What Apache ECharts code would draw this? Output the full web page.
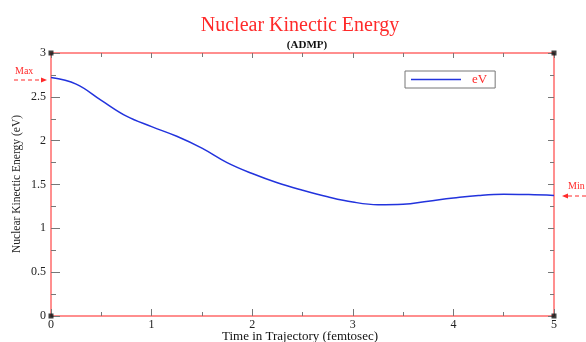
<!DOCTYPE html>
<html>
<head>
<meta charset="utf-8">
<script src="https://cdn.jsdelivr.net/npm/echarts@6/dist/echarts.min.js"></script>
<style>
  html, body { margin: 0; padding: 0; background: #fff; }
  #chart { width: 586px; height: 342px; }
</style>
</head>
<body>
<div id="chart"></div>
<script>
// Nuclear kinetic energy along the ADMP trajectory
const times = [0, 0.25, 0.5, 0.75, 1.0, 1.25, 1.5, 1.75, 2.0, 2.25, 2.5,
               2.75, 3.0, 3.25, 3.5, 3.75, 4.0, 4.25, 4.5, 4.75, 5.0];
const energyEV = [2.72, 2.645, 2.46, 2.28, 2.16, 2.05, 1.915, 1.75, 1.625, 1.52, 1.435,
                  1.36, 1.30, 1.27, 1.275, 1.31, 1.345, 1.375, 1.39, 1.385, 1.375];
const xTicks = [0, 1, 2, 3, 4, 5];
const yTicks = [0, 0.5, 1, 1.5, 2, 2.5, 3];
const frameCorners = [[0, 0], [5, 0], [0, 3], [5, 3]];
const xAxisTitle = 'Time in Trajectory (femtosec)';
const yAxisTitle = 'Nuclear Kinectic Energy (eV)';

const serif = '"Liberation Serif", "DejaVu Serif", serif';
const red = '#ff2a2a';
const frameColor = '#ff6a6a';
const tickColor = '#777';

const chart = echarts.init(document.getElementById('chart'), null, { renderer: 'canvas' });

const baseAxis = {
  axisLine: { show: true, onZero: false, lineStyle: { color: frameColor, width: 1.5 } },
  splitLine: { show: false },
  axisTick: { show: true, inside: true, lineStyle: { color: tickColor, width: 1 } },
  minorTick: { show: true, splitNumber: 2, lineStyle: { color: tickColor, width: 1 } }
};

chart.setOption({
  animation: false,
  backgroundColor: '#fff',
  title: [
    { text: 'Nuclear Kinectic Energy', left: 295, top: 11, textAlign: 'center',
      textStyle: { fontFamily: serif, fontSize: 20, fontWeight: 'normal', color: red } },
    { text: '(ADMP)', left: 302, top: 35, textAlign: 'center',
      textStyle: { fontFamily: serif, fontSize: 11, fontWeight: 'bold', color: '#111' } }
  ],
  legend: {
    data: ['eV'],
    left: 405, top: 71,
    orient: 'horizontal',
    icon: 'rect',
    itemWidth: 50, itemHeight: 1.5,
    itemGap: 4,
    padding: [2, 8, 2, 6],
    borderColor: '#777', borderWidth: 1,
    textStyle: { fontFamily: serif, fontSize: 13, color: red, padding: [0, 0, 0, 6] }
  },
  grid: { left: 51, right: 32, top: 53, bottom: 26, containLabel: false, outerBoundsMode: 'none' },
  xAxis: [
    Object.assign({}, baseAxis, {
      type: 'value', min: 0, max: 5, interval: 1, position: 'bottom',
      axisTick: Object.assign({}, baseAxis.axisTick, { length: 7 }),
      minorTick: Object.assign({}, baseAxis.minorTick, { length: 4 }),
      axisLabel: { margin: 3, fontFamily: serif, fontSize: 12, color: '#222',
        formatter: v => xTicks.includes(v) ? String(v) : '' }
    }),
    Object.assign({}, baseAxis, {
      type: 'value', min: 0, max: 5, interval: 1, position: 'top',
      axisTick: Object.assign({}, baseAxis.axisTick, { length: 5 }),
      minorTick: Object.assign({}, baseAxis.minorTick, { length: 4 }),
      axisLabel: { show: false }
    })
  ],
  yAxis: [
    Object.assign({}, baseAxis, {
      type: 'value', min: 0, max: 3, interval: 0.5, position: 'left',
      axisTick: Object.assign({}, baseAxis.axisTick, { length: 9 }),
      minorTick: Object.assign({}, baseAxis.minorTick, { length: 5 }),
      axisLabel: { margin: 5, fontFamily: serif, fontSize: 12, color: '#222',
        formatter: v => yTicks.includes(v) ? String(v) : '' }
    }),
    Object.assign({}, baseAxis, {
      type: 'value', min: 0, max: 3, interval: 0.5, position: 'right',
      axisTick: Object.assign({}, baseAxis.axisTick, { length: 6 }),
      minorTick: Object.assign({}, baseAxis.minorTick, { length: 4 }),
      axisLabel: { show: false }
    })
  ],
  series: [
    {
      name: 'eV', type: 'line', smooth: 0.4, showSymbol: false,
      data: times.map((t, i) => [t, energyEV[i]]),
      lineStyle: { color: '#2233dd', width: 1.5 },
      itemStyle: { color: '#2233dd' },
      z: 3
    },
    {
      name: 'corners', type: 'scatter', symbol: 'rect', symbolSize: 5,
      data: frameCorners, clip: false, silent: true,
      itemStyle: { color: '#111' }, z: 5
    }
  ],
  graphic: [
    // Axis titles
    { type: 'text', x: 300, y: 336.5,
      style: { text: xAxisTitle, font: '13px ' + serif, fill: '#111',
        align: 'center', verticalAlign: 'middle' } },
    { type: 'text', x: 17, y: 184, rotation: Math.PI / 2,
      style: { text: yAxisTitle, font: '11.5px ' + serif, fill: '#222',
        align: 'center', verticalAlign: 'middle' } },
    // Max marker on the left margin
    { type: 'text', left: 15, top: 66,
      style: { text: 'Max', font: '10px ' + serif, fill: red } },
    { type: 'line', shape: { x1: 14, y1: 80, x2: 42, y2: 80 },
      style: { stroke: red, lineWidth: 1.2, lineDash: [4, 3] } },
    { type: 'polygon', shape: { points: [[47, 80], [41, 77.5], [41, 82.5]] },
      style: { fill: red } },
    // Min marker on the right margin
    { type: 'text', left: 568, top: 181,
      style: { text: 'Min', font: '10px ' + serif, fill: red } },
    { type: 'line', shape: { x1: 568, y1: 196, x2: 586, y2: 196 },
      style: { stroke: red, lineWidth: 1.2, lineDash: [4, 3] } },
    { type: 'polygon', shape: { points: [[562, 196], [568, 193.5], [568, 198.5]] },
      style: { fill: red } }
  ]
});
</script>
</body>
</html>
